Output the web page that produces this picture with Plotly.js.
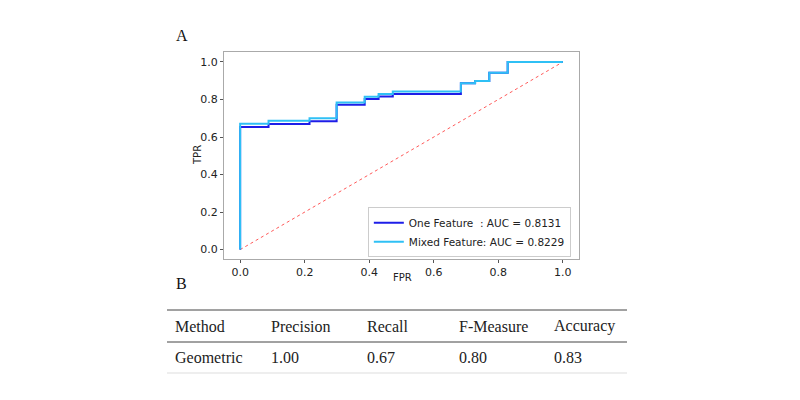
<!DOCTYPE html>
<html><head><meta charset="utf-8">
<script src="https://cdn.plot.ly/plotly-3.0.1.min.js"></script>
<style>html,body{margin:0;padding:0;background:#fff}#c{width:800px;height:400px}</style>
</head><body><div id="c"></div>
<script>
const fprOne = [0, 0, 0.088, 0.215, 0.299, 0.386, 0.429, 0.473, 0.684, 0.728, 0.772, 0.829, 1.0];
const tprOne = [0, 0.654, 0.670, 0.684, 0.772, 0.802, 0.816, 0.829, 0.887, 0.899, 0.943, 1.0, 1.0];
const fprMixed = [0, 0, 0.088, 0.215, 0.299, 0.386, 0.429, 0.473, 0.684, 0.728, 0.772, 0.829, 1.0];
const tprMixed = [0, 0.671, 0.686, 0.700, 0.784, 0.814, 0.829, 0.843, 0.887, 0.899, 0.943, 1.0, 1.0];
const chanceX = [0, 1];
const chanceY = [0, 1];
const seriesNames = ['One Feature  : AUC = 0.8131', 'Mixed Feature: AUC = 0.8229'];
const axisTitles = ['FPR', 'TPR'];
const tableHeaders = ['Method', 'Precision', 'Recall', 'F-Measure', 'Accuracy'];
const tableRow = ['Geometric', '1.00', '0.67', '0.80', '0.83'];
const panelLabels = ['A', 'B'];

// plot area in pixels
const L = 224, R = 579, T = 52, B = 259;
const px = p => (p - L) / (R - L);
const py = p => (B - p) / (B - T);

const traces = [
  {x: chanceX, y: chanceY, mode: 'lines', line: {color: '#ff5a5a', width: 1, dash: 'dot'}, showlegend: false, hoverinfo: 'skip'},
  {x: fprOne, y: tprOne, mode: 'lines', name: seriesNames[0], line: {shape: 'hv', color: '#1e1ee8', width: 2}},
  {x: fprMixed, y: tprMixed, mode: 'lines', name: seriesNames[1], line: {shape: 'hv', color: '#2fc0f5', width: 2}}
];

const colX = [173, 269, 365, 457, 552];
const annotations = [];
annotations.push({text: axisTitles[0], xref: 'paper', yref: 'paper', x: px(402), y: py(277), xanchor: 'center', yanchor: 'middle', showarrow: false, font: {size: 10, color: '#222'}});
annotations.push({text: axisTitles[1], xref: 'paper', yref: 'paper', x: px(197), y: py(155), xanchor: 'center', yanchor: 'middle', textangle: -90, showarrow: false, font: {size: 10, color: '#222'}});
annotations.push({text: panelLabels[0], xref: 'paper', yref: 'paper', x: px(174), y: py(35), xanchor: 'left', yanchor: 'middle', showarrow: false, font: {family: 'Liberation Serif', size: 16, color: '#111'}});
annotations.push({text: panelLabels[1], xref: 'paper', yref: 'paper', x: px(174), y: py(283), xanchor: 'left', yanchor: 'middle', showarrow: false, font: {family: 'Liberation Serif', size: 16, color: '#111'}});
tableHeaders.forEach((h, i) => annotations.push({text: h, xref: 'paper', yref: 'paper', x: px(colX[i]), y: py(326), xanchor: 'left', yanchor: 'middle', showarrow: false, font: {family: 'Liberation Serif', size: 16, color: '#222'}}));
tableRow.forEach((h, i) => annotations.push({text: h, xref: 'paper', yref: 'paper', x: px(colX[i]), y: py(357), xanchor: 'left', yanchor: 'middle', showarrow: false, font: {family: 'Liberation Serif', size: 16, color: '#222'}}));

const shapes = [
  {type: 'line', xref: 'paper', yref: 'paper', x0: px(167), x1: px(627), y0: py(310), y1: py(310), line: {color: '#444', width: 1}},
  {type: 'line', xref: 'paper', yref: 'paper', x0: px(167), x1: px(627), y0: py(342), y1: py(342), line: {color: '#444', width: 1}},
  {type: 'line', xref: 'paper', yref: 'paper', x0: px(167), x1: px(627), y0: py(373), y1: py(373), line: {color: '#ddd', width: 1}}
];

const layout = {
  width: 800, height: 400,
  margin: {l: L, r: 800 - R, t: T, b: 400 - B, pad: 0},
  paper_bgcolor: '#fff', plot_bgcolor: '#fff',
  font: {family: 'DejaVu Sans', size: 10, color: '#222'},
  xaxis: {range: [-0.05, 1.05], tickvals: [0, 0.2, 0.4, 0.6, 0.8, 1.0], ticktext: ['0.0', '0.2', '0.4', '0.6', '0.8', '1.0'],
    showgrid: false, zeroline: false, showline: true, mirror: true, linecolor: '#aaa', linewidth: 1,
    ticks: 'outside', ticklen: 3, tickcolor: '#555', tickfont: {size: 11}, automargin: false},
  yaxis: {range: [-0.05, 1.053], tickvals: [0, 0.2, 0.4, 0.6, 0.8, 1.0], ticktext: ['0.0', '0.2', '0.4', '0.6', '0.8', '1.0'],
    showgrid: false, zeroline: false, showline: true, mirror: true, linecolor: '#aaa', linewidth: 1,
    ticks: 'outside', ticklen: 3, tickcolor: '#555', tickfont: {size: 11}, automargin: false},
  legend: {x: 0.977, y: 0.008, xanchor: 'right', yanchor: 'bottom', bgcolor: '#fff', bordercolor: '#ccc', borderwidth: 1,
    font: {size: 10.5}, tracegroupgap: 0, itemwidth: 30},
  showlegend: true,
  annotations: annotations,
  shapes: shapes
};
Plotly.newPlot('c', traces, layout, {staticPlot: true, displayModeBar: false});
</script>
</body></html>
